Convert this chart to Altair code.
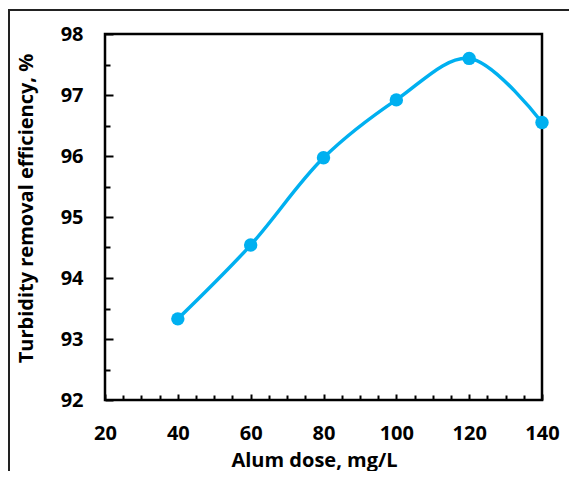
import altair as alt
import pandas as pd

dose = [40, 60, 80, 100, 120, 140]
efficiency = [93.33, 94.54, 95.97, 96.92, 97.60, 96.55]

x_major = [20, 40, 60, 80, 100, 120, 140]
x_minor = [25, 30, 35, 45, 50, 55, 65, 70, 75, 85, 90, 95, 105, 110, 115, 125, 130, 135]
y_major = [92, 93, 94, 95, 96, 97, 98]
y_minor = [92.5, 93.5, 94.5, 95.5, 96.5, 97.5]

df = pd.DataFrame({"dose": dose, "eff": efficiency})

FONT = "Open Sans"
BLUE = "#00B0F0"
xs = alt.Scale(domain=[20, 140], nice=False, zero=False)
ys = alt.Scale(domain=[92, 98], nice=False, zero=False)

base = alt.Chart(df)

frame = base.mark_rect(filled=False, stroke="#222222", strokeWidth=2).encode(
    x=alt.value(-96), x2=alt.value(700), y=alt.value(-24), y2=alt.value(700)
)

line = base.mark_line(color=BLUE, strokeWidth=3.5, interpolate="catmull-rom").encode(
    x=alt.X("dose:Q", scale=xs, title="Alum dose, mg/L",
            axis=alt.Axis(orient="bottom", values=x_major, ticks=False, tickSize=0,
                          domain=False, grid=False, labelPadding=23, labelFlush=False,
                          labelFont=FONT, labelFontSize=20, labelFontWeight="bold",
                          labelColor="black", titleFont=FONT, titleFontSize=20,
                          titleFontWeight="bold", titleColor="black", titlePadding=7,
                          titleX=209, titleAlign="center")),
    y=alt.Y("eff:Q", scale=ys, title="Turbidity removal efficiency, %",
            axis=alt.Axis(orient="left", values=y_major, ticks=False, tickSize=0,
                          domain=False, grid=False, labelPadding=22, labelFlush=False,
                          labelFont=FONT, labelFontSize=20, labelFontWeight="bold",
                          labelColor="black", titleFont=FONT, titleFontSize=20,
                          titleFontWeight="bold", titleColor="black", titlePadding=24,
                          titleY=174, titleAlign="center")),
)

points = base.mark_circle(color=BLUE, opacity=1, size=180).encode(
    x=alt.X("dose:Q", scale=xs, title=None,
            axis=alt.Axis(orient="bottom", values=x_major, offset=-6, tickSize=6,
                          tickWidth=2, tickColor="black", labels=False, domain=False,
                          grid=False)),
    y=alt.Y("eff:Q", scale=ys, title=None,
            axis=alt.Axis(orient="left", values=y_major, offset=-8, tickSize=8,
                          tickWidth=2, tickColor="black", labels=False, domain=False,
                          grid=False)),
)

minor = base.mark_point(opacity=0).encode(
    x=alt.X("dose:Q", scale=xs, title=None,
            axis=alt.Axis(orient="bottom", values=x_minor, offset=-5, tickSize=5,
                          tickWidth=2, tickColor="black", labels=False, domain=False,
                          grid=False)),
    y=alt.Y("eff:Q", scale=ys, title=None,
            axis=alt.Axis(orient="left", values=y_minor, offset=-5, tickSize=5,
                          tickWidth=2, tickColor="black", labels=False, domain=False,
                          grid=False)),
)

chart = alt.layer(frame, line, minor, points).resolve_scale(
    x="independent", y="independent"
).properties(
    width=437,
    height=366,
    padding={"left": 97, "top": 26, "right": 27, "bottom": 71},
    autosize=alt.AutoSizeParams(type="none"),
    background="white",
).configure_view(stroke="black", strokeWidth=2.5)

chart.save("out.html", embed_options={"renderer": "svg", "actions": False})
